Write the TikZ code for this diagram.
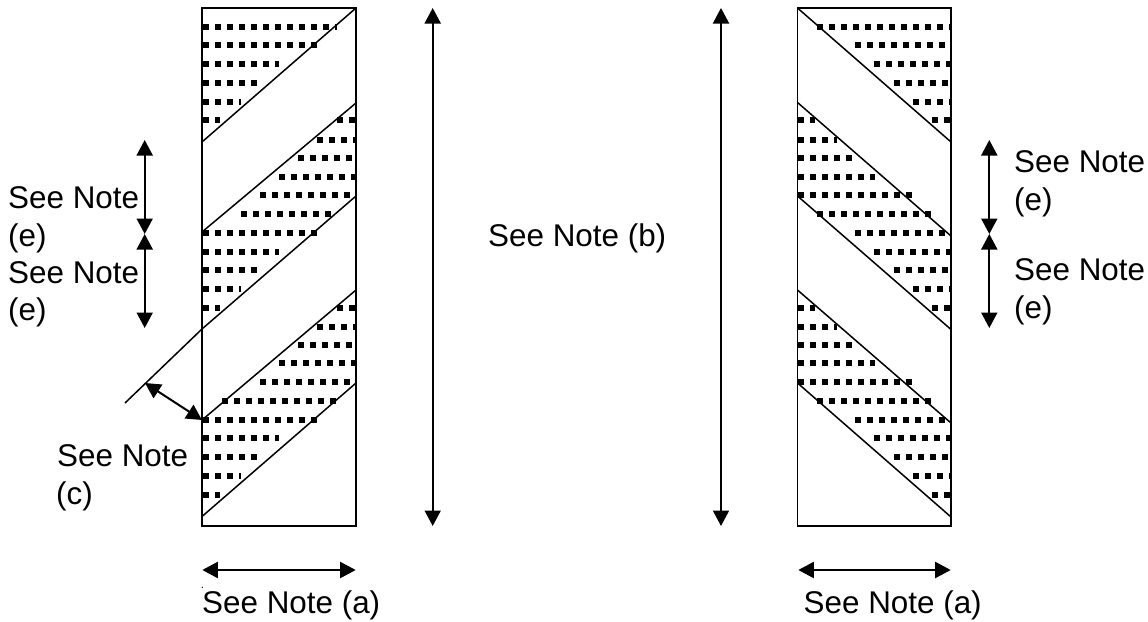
\documentclass[tikz,border=0pt]{standalone}
\usepackage{fontspec}
\setmainfont{Liberation Sans}
\usetikzlibrary{arrows.meta}
\tikzset{
    boxline/.style={line width=1.7pt},
    hatchline/.style={line width=1.5pt},
    dotrow/.style={line width=5.8pt, dash pattern=on 5.7pt off 6.3pt},
    dimline/.style={line width=2pt, {Triangle[length=15.5pt,width=16pt]}-{Triangle[length=15.5pt,width=16pt]}},
    notelabel/.style={inner sep=0pt, anchor=base west, font=\fontsize{31.4}{37}\selectfont},
}
\begin{document}
\begin{tikzpicture}[x=1pt, y=-1pt]
        \useasboundingbox (0, 0) rectangle (1148, 621);

        \foreach \y/\a/\b in {27/203/337, 45.3/203/317, 64.3/203/279, 82.7/203/257, 101.7/203/241, 120.3/203/220,
                120.3/337/355, 139.7/317/355, 158/298/352, 176.7/279/355, 195/260/351, 214.3/241/331,
                232.7/203/317, 251.7/203/279, 270/203/257, 289.3/203/241, 307.7/203/220,
                307.7/337/355, 326.7/317/355, 345/298/352, 363.3/279/355, 382.3/260/351, 400.7/222/336,
                420/203/317, 438.3/203/279, 457.3/203/257, 475.7/203/241, 495/203/220}
            \draw[dotrow] (\a, \y) -- (\b, \y);

        \draw[boxline] (202, 8) rectangle (356, 526);
        \draw[hatchline] (202, 142) -- (356, 8);
        \draw[hatchline] (202, 232) -- (356, 103);
        \draw[hatchline] (356, 196) -- (202, 329) -- (125, 403);
        \draw[hatchline] (202, 420) -- (356, 290);
        \draw[hatchline] (202, 516.5) -- (356, 383);

        %%%

        \foreach \y/\a/\b in {27/817/951, 45.3/855/945, 64.3/874/951, 82.7/894/948, 101.7/913/951, 120.3/932/950,
                120.3/798/815, 139.7/798/837, 158/798/852, 176.7/798/875, 195/798/912, 214.3/817/931,
                232.7/855/945, 251.7/874/951, 270/894/948, 289.3/913/951, 307.7/932/950,
                307.7/798/815, 326.7/798/837, 345/798/852, 363.3/798/875, 382.3/798/912, 400.7/817/931,
                420/855/945, 438.3/874/951, 457.3/894/948, 475.7/913/951, 495/932/950}
            \draw[dotrow] (\a, \y) -- (\b, \y);

        \draw[boxline] (797.5, 8) rectangle (951, 526);
        \draw[hatchline] (797.5, 8) -- (951, 142);
        \draw[hatchline] (797.5, 102.5) -- (951, 236);
        \draw[hatchline] (797.5, 196) -- (951, 329.5);
        \draw[hatchline] (797.5, 290) -- (951, 423);
        \draw[hatchline] (797.5, 383) -- (951, 517);

        %%%

        \coordinate (leftTop) at (144.7, 140);
        \coordinate (leftMid) at (144.7, 234);
        \coordinate (leftLow) at (144.7, 328);
        \coordinate (rightTop) at (989.3, 140);
        \coordinate (rightMid) at (989.3, 234);
        \coordinate (rightLow) at (989.3, 328);
        \coordinate (heightAtop) at (432.7, 8);
        \coordinate (heightAbot) at (432.7, 526);
        \coordinate (heightBtop) at (721, 8);
        \coordinate (heightBbot) at (721, 526);
        \coordinate (widthAl) at (202.3, 570);
        \coordinate (widthAr) at (355.7, 570);
        \coordinate (widthBl) at (798.3, 570);
        \coordinate (widthBr) at (950.7, 570);
        \coordinate (gapA) at (145, 383);
        \coordinate (gapB) at (202, 420);

        \draw[dimline] (leftTop) -- (leftMid);
        \draw[dimline] (leftMid) -- (leftLow);
        \draw[dimline] (rightTop) -- (rightMid);
        \draw[dimline] (rightMid) -- (rightLow);
        \draw[dimline] (heightAtop) -- (heightAbot);
        \draw[dimline] (heightBtop) -- (heightBbot);
        \draw[dimline] (widthAl) -- (widthAr);
        \draw[dimline] (widthBl) -- (widthBr);
        \draw[dimline] (gapA) -- (gapB);

        \fill (202.3, 587.3) circle (0.7);

        %%%

        \node[notelabel] (noteEa) at (8, 208) {See Note};
        \node[notelabel] (noteEb) at (8, 246) {(e)};
        \node[notelabel] (noteEc) at (8, 283) {See Note};
        \node[notelabel] (noteEd) at (8, 320) {(e)};
        \node[notelabel] (noteCa) at (57, 466.7) {See Note};
        \node[notelabel] (noteCb) at (56, 504) {(c)};
        \node[notelabel] (noteAa) at (202, 613) {See Note (a)};
        \node[notelabel] (noteB) at (488, 246.7) {See Note (b)};
        \node[notelabel] (noteAb) at (803.5, 613) {See Note (a)};
        \node[notelabel] (noteEe) at (1014, 172) {See Note};
        \node[notelabel] (noteEf) at (1014, 210) {(e)};
        \node[notelabel] (noteEg) at (1014, 280) {See Note};
        \node[notelabel] (noteEh) at (1014, 318) {(e)};
    \end{tikzpicture}
\end{document}
